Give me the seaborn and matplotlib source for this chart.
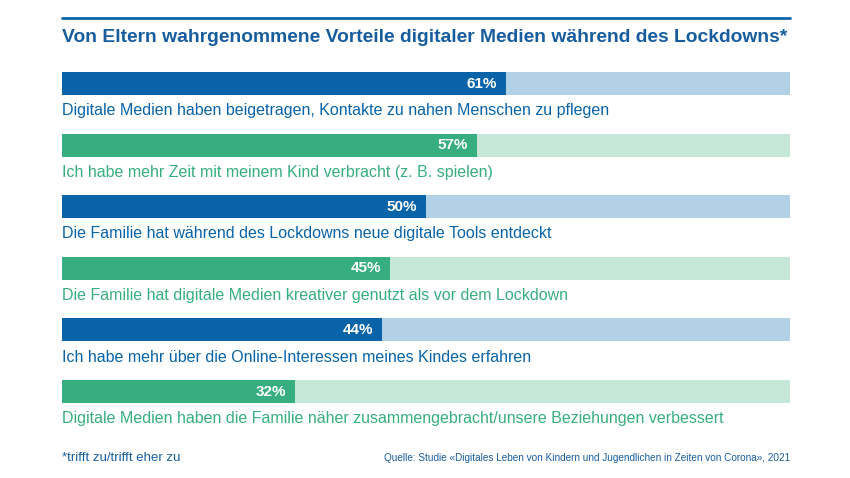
import matplotlib
matplotlib.use("Agg")
import matplotlib.pyplot as plt
import pandas as pd
import seaborn as sns

TITLE = "Von Eltern wahrgenommene Vorteile digitaler Medien während des Lockdowns*"
LABELS = [
    "Digitale Medien haben beigetragen, Kontakte zu nahen Menschen zu pflegen",
    "Ich habe mehr Zeit mit meinem Kind verbracht (z. B. spielen)",
    "Die Familie hat während des Lockdowns neue digitale Tools entdeckt",
    "Die Familie hat digitale Medien kreativer genutzt als vor dem Lockdown",
    "Ich habe mehr über die Online-Interessen meines Kindes erfahren",
    "Digitale Medien haben die Familie näher zusammengebracht/unsere Beziehungen verbessert",
]
VALUES = [61, 57, 50, 45, 44, 32]
TOTAL = [100] * 6
FOOTNOTE = "*trifft zu/trifft eher zu"
SOURCE = "Quelle: Studie «Digitales Leben von Kindern und Jugendlichen in Zeiten von Corona», 2021"

BLUE, BLUE_LIGHT = "#0863a9", "#b3d1e6"
GREEN, GREEN_LIGHT = "#37ae7f", "#c5e7d7"
dark = [BLUE if i % 2 == 0 else GREEN for i in range(len(VALUES))]
light = [BLUE_LIGHT if i % 2 == 0 else GREEN_LIGHT for i in range(len(VALUES))]

sns.set_style("white")
plt.rcParams["font.family"] = ["Liberation Sans", "DejaVu Sans"]

df = pd.DataFrame({"label": LABELS, "value": VALUES, "total": TOTAL})

fig = plt.figure(figsize=(8.5, 4.78), dpi=100)
ax = fig.add_axes([62 / 850, 1 - 403 / 478, 728 / 850, 331 / 478])

bar_w = 23 / 61.6
sns.barplot(data=df, y="label", x="total", hue="label", palette=light,
            width=bar_w, legend=False, ax=ax, saturation=1, linewidth=0)
sns.barplot(data=df, y="label", x="value", hue="label", palette=dark,
            width=bar_w, legend=False, ax=ax, saturation=1, linewidth=0)

for i, (lab, v) in enumerate(zip(LABELS, VALUES)):
    ax.text(v - 1.2, i, f"{v}%", ha="right", va="center", color="white",
            fontsize=11, fontweight="bold")
    ax.text(0, i + 0.44, lab, ha="left", va="center", color=dark[i], fontsize=11.5)

ax.set_xlim(0, 100)
ax.set_ylim(5 + bar_w / 2, -bar_w / 2)
ax.axis("off")

fig.add_artist(plt.Line2D([62 / 850, 790 / 850], [1 - 18 / 478] * 2,
                          color=BLUE, linewidth=2))
fig.text(62 / 850, 1 - 37 / 478, TITLE, ha="left", va="center", color="#175d9e",
         fontsize=13.9, fontweight="bold")
fig.text(62 / 850, 1 - 458 / 478, FOOTNOTE, ha="left", va="center", color="#175d9e",
         fontsize=9.5)
fig.text(790 / 850, 1 - 458 / 478, SOURCE, ha="right", va="center", color="#175d9e",
         fontsize=7.2)

fig.savefig("out.png", dpi=100)
